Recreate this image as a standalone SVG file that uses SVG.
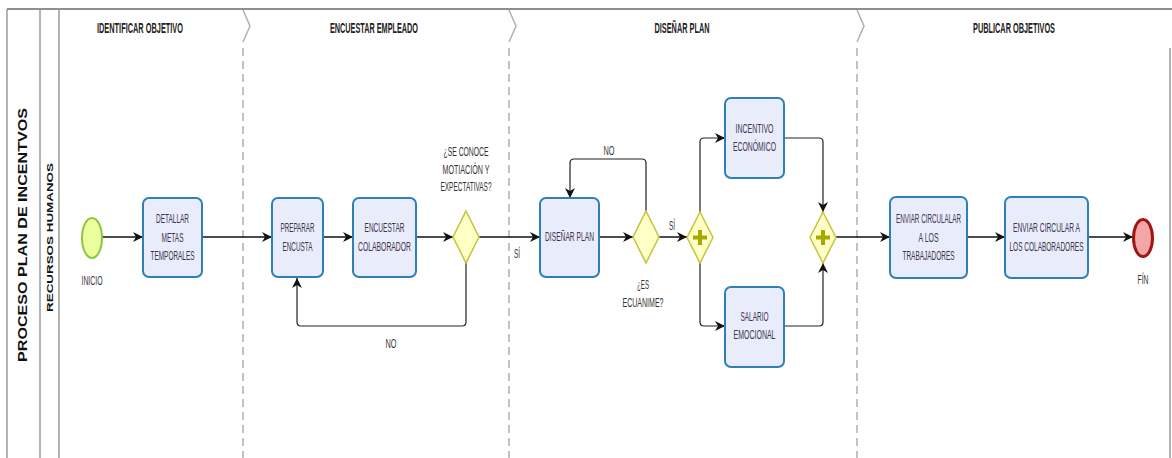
<svg xmlns="http://www.w3.org/2000/svg" width="1172" height="458" viewBox="0 0 1172 458">
<style>
.frame{stroke:#9a9a9a;stroke-width:1.5;fill:none}
.top{stroke:#6a6a6a;stroke-width:1.5;fill:none}
.phase{stroke:#b0b0b0;stroke-width:1.5;fill:none;stroke-dasharray:8 5}
.chev{stroke:#b0b0b0;stroke-width:1.5;fill:none}
.title{font-family:"Liberation Sans",Arial,sans-serif;font-weight:bold;font-size:14px;fill:#222;text-anchor:middle}
.pool{font-family:"Liberation Sans",Arial,sans-serif;font-weight:bold;font-size:12px;fill:#111;text-anchor:middle}
.lane{font-family:"Liberation Sans",Arial,sans-serif;font-weight:bold;font-size:9px;fill:#111;text-anchor:middle}
.task{fill:#e9ecfb;stroke:#2f80b8;stroke-width:2}
.tt{font-family:"Liberation Sans",Arial,sans-serif;font-size:12px;fill:#3d3450;text-anchor:middle}
.lbl{font-family:"Liberation Sans",Arial,sans-serif;font-size:12px;fill:#333;text-anchor:middle}
.gw{fill:#ffffc6;stroke:#c5c53a;stroke-width:1.5}
.plus{fill:#a8a800}
.flow{stroke:#111;stroke-width:1.5;fill:none}
.flow2{stroke:#222;stroke-width:1.2;fill:none}
</style>
<defs>
<marker id="arr" markerUnits="userSpaceOnUse" markerWidth="11" markerHeight="10" refX="10" refY="5" orient="auto">
<path d="M0,0 L10,5 L0,10 L3,5 z" fill="#111"/>
</marker>
</defs>
<rect width="1172" height="458" fill="#fff"/>
<g id="pool">
<line class="top" x1="7" y1="9" x2="1172" y2="9"/>
<line class="frame" x1="7" y1="9" x2="7" y2="458"/>
<line class="frame" x1="40" y1="9" x2="40" y2="458"/>
<line class="frame" x1="59" y1="9" x2="59" y2="458"/>
<line class="frame" x1="1170" y1="48" x2="1170" y2="458"/>
<text class="pool" transform="translate(27,235) rotate(-90)" textLength="254" lengthAdjust="spacingAndGlyphs">PROCESO PLAN DE INCENTVOS</text>
<text class="lane" transform="translate(53,237.5) rotate(-90)" textLength="149" lengthAdjust="spacingAndGlyphs">RECURSOS HUMANOS</text>
</g>
<g id="phases">
<path class="chev" d="M243,10 L250,26 L243,42"/>
<line class="phase" x1="243" y1="48" x2="243" y2="458"/>
<path class="chev" d="M509,10 L516,26 L509,42"/>
<line class="phase" x1="509" y1="48" x2="509" y2="458"/>
<path class="chev" d="M857,10 L864,26 L857,42"/>
<line class="phase" x1="857" y1="48" x2="857" y2="458"/>
<text class="title" x="140" y="33" textLength="86" lengthAdjust="spacingAndGlyphs">IDENTIFICAR OBJETIVO</text>
<text class="title" x="374" y="33" textLength="88" lengthAdjust="spacingAndGlyphs">ENCUESTAR EMPLEADO</text>
<text class="title" x="682" y="33" textLength="55" lengthAdjust="spacingAndGlyphs">DISEÑAR PLAN</text>
<text class="title" x="1014" y="33" textLength="82" lengthAdjust="spacingAndGlyphs">PUBLICAR OBJETIVOS</text>
</g>
<g id="connectors">
<line class="flow" x1="102" y1="237" x2="143" y2="237" marker-end="url(#arr)"/>
<line class="flow" x1="202" y1="237" x2="272" y2="237" marker-end="url(#arr)"/>
<line class="flow" x1="323" y1="237" x2="353" y2="237" marker-end="url(#arr)"/>
<line class="flow" x1="416" y1="237" x2="453" y2="237" marker-end="url(#arr)"/>
<line class="flow" x1="479" y1="237" x2="540" y2="237" marker-end="url(#arr)"/>
<path class="flow2" d="M466,263 V322 Q466,326 462,326 H301 Q297,326 297,322 V278" marker-end="url(#arr)"/>
<line class="flow" x1="599" y1="237" x2="633" y2="237" marker-end="url(#arr)"/>
<path class="flow2" d="M646,211 V163 Q646,159 642,159 H574 Q570,159 570,163 V198" marker-end="url(#arr)"/>
<line class="flow" x1="659" y1="237" x2="687" y2="237" marker-end="url(#arr)"/>
<path class="flow2" d="M700,212 V142 Q700,138 704,138 H725" marker-end="url(#arr)"/>
<path class="flow2" d="M700,263 V322 Q700,326 704,326 H725" marker-end="url(#arr)"/>
<path class="flow2" d="M784,138 H819 Q823,138 823,142 V212" marker-end="url(#arr)"/>
<path class="flow2" d="M784,326 H819 Q823,326 823,322 V263" marker-end="url(#arr)"/>
<line class="flow" x1="836" y1="237" x2="890" y2="237" marker-end="url(#arr)"/>
<line class="flow" x1="967" y1="237" x2="1005" y2="237" marker-end="url(#arr)"/>
<line class="flow" x1="1088" y1="237" x2="1133" y2="237" marker-end="url(#arr)"/>
<text class="lbl" x="517" y="258" textLength="6" lengthAdjust="spacingAndGlyphs">SÍ</text>
<text class="lbl" x="391" y="348" textLength="11" lengthAdjust="spacingAndGlyphs">NO</text>
<text class="lbl" x="609" y="155" textLength="11" lengthAdjust="spacingAndGlyphs">NO</text>
<text class="lbl" x="672" y="230" textLength="6" lengthAdjust="spacingAndGlyphs">SÍ</text>
</g>
<g id="inicio">
<ellipse cx="92" cy="238" rx="10" ry="20" fill="#ebff9c" stroke="#8cc63f" stroke-width="2"/>
<text class="lbl" x="92" y="285" textLength="21" lengthAdjust="spacingAndGlyphs">INICIO</text>
</g>
<g id="detallar">
<rect class="task" x="143" y="198" width="59" height="79" rx="6"/>
<text class="tt" x="172.5" y="223" textLength="33" lengthAdjust="spacingAndGlyphs">DETALLAR</text>
<text class="tt" x="172.5" y="242" textLength="22" lengthAdjust="spacingAndGlyphs">METAS</text>
<text class="tt" x="172.5" y="260" textLength="44" lengthAdjust="spacingAndGlyphs">TEMPORALES</text>
</g>
<g id="preparar">
<rect class="task" x="272" y="198" width="51" height="79" rx="6"/>
<text class="tt" x="297.5" y="232" textLength="34" lengthAdjust="spacingAndGlyphs">PREPARAR</text>
<text class="tt" x="297.5" y="251" textLength="30" lengthAdjust="spacingAndGlyphs">ENCUSTA</text>
</g>
<g id="encuestar">
<rect class="task" x="353" y="198" width="63" height="79" rx="6"/>
<text class="tt" x="384.5" y="232" textLength="40" lengthAdjust="spacingAndGlyphs">ENCUESTAR</text>
<text class="tt" x="384.5" y="251" textLength="53" lengthAdjust="spacingAndGlyphs">COLABORADOR</text>
</g>
<g id="gw-conoce">
<polygon class="gw" points="466,211 479,237 466,263 453,237"/>
<text class="lbl" x="466" y="156" textLength="45" lengthAdjust="spacingAndGlyphs">¿SE CONOCE</text>
<text class="lbl" x="466" y="174" textLength="47" lengthAdjust="spacingAndGlyphs">MOTIACIÓN Y</text>
<text class="lbl" x="466" y="191" textLength="51" lengthAdjust="spacingAndGlyphs">EXPECTATIVAS?</text>
</g>
<g id="disenar">
<rect class="task" x="540" y="198" width="59" height="79" rx="6"/>
<text class="tt" x="569.5" y="241" textLength="49" lengthAdjust="spacingAndGlyphs">DISEÑAR PLAN</text>
</g>
<g id="gw-ecuanime">
<polygon class="gw" points="646,211 659,237 646,263 633,237"/>
<text class="lbl" x="643" y="289" textLength="12" lengthAdjust="spacingAndGlyphs">¿ES</text>
<text class="lbl" x="643" y="307" textLength="41" lengthAdjust="spacingAndGlyphs">ECUANIME?</text>
</g>
<g id="gw-split">
<polygon class="gw" points="700,212 713,237.5 700,263 687,237.5"/>
<path class="plus" d="M698,230 h4 v5.5 h5 v4 h-5 v5.5 h-4 v-5.5 h-5 v-4 h5 z"/>
</g>
<g id="incentivo">
<rect class="task" x="725" y="98" width="59" height="80" rx="6"/>
<text class="tt" x="754.5" y="133" textLength="38" lengthAdjust="spacingAndGlyphs">INCENTIVO</text>
<text class="tt" x="754.5" y="151" textLength="43" lengthAdjust="spacingAndGlyphs">ECONÓMICO</text>
</g>
<g id="salario">
<rect class="task" x="725" y="287" width="59" height="80" rx="6"/>
<text class="tt" x="754.5" y="321" textLength="28" lengthAdjust="spacingAndGlyphs">SALARIO</text>
<text class="tt" x="754.5" y="339" textLength="42" lengthAdjust="spacingAndGlyphs">EMOCIONAL</text>
</g>
<g id="gw-join">
<polygon class="gw" points="823,212 836,237.5 823,263 810,237.5"/>
<path class="plus" d="M821,230 h4 v5.5 h5 v4 h-5 v5.5 h-4 v-5.5 h-5 v-4 h5 z"/>
</g>
<g id="enviar-trabajadores">
<rect class="task" x="890" y="197" width="77" height="81" rx="6"/>
<text class="tt" x="928.5" y="223" textLength="65" lengthAdjust="spacingAndGlyphs">ENVIAR CIRCULALAR</text>
<text class="tt" x="928.5" y="242" textLength="20" lengthAdjust="spacingAndGlyphs">A LOS</text>
<text class="tt" x="928.5" y="260" textLength="52" lengthAdjust="spacingAndGlyphs">TRABAJADORES</text>
</g>
<g id="enviar-colaboradores">
<rect class="task" x="1005" y="197" width="83" height="81" rx="6"/>
<text class="tt" x="1046.5" y="232" textLength="67" lengthAdjust="spacingAndGlyphs">ENVIAR CIRCULAR A</text>
<text class="tt" x="1046.5" y="251" textLength="74" lengthAdjust="spacingAndGlyphs">LOS COLABORADORES</text>
</g>
<g id="fin">
<ellipse cx="1143" cy="238" rx="9.5" ry="18.5" fill="#f2a6a6" stroke="#a31515" stroke-width="3"/>
<text class="lbl" x="1143" y="284" textLength="11" lengthAdjust="spacingAndGlyphs">FÍN</text>
</g>
</svg>
